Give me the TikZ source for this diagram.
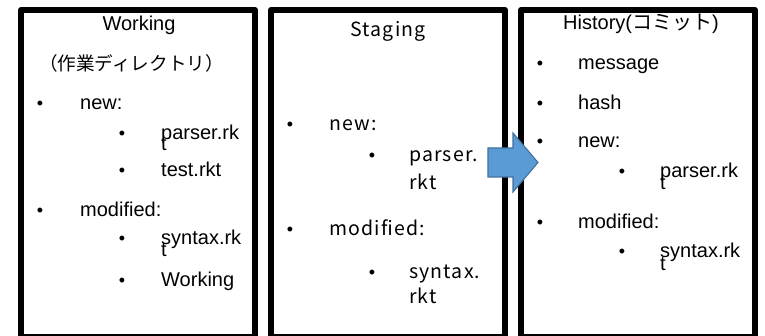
\documentclass[tikz,border=0pt]{standalone}
\usepackage{fontspec}
\setmainfont{Liberation Sans}
\newfontfamily\cjk{Noto Sans CJK JP}
\newfontfamily\stagefont[LetterSpace=6]{Noto Sans CJK JP}
\definecolor{arrowblue}{HTML}{5B9BD5}
\definecolor{arrowedge}{HTML}{41719C}
\begin{document}
\begin{tikzpicture}[x=1pt,y=-1pt,
  panel/.style={draw, line width=6pt, line join=round, fill=white,
    minimum width=234pt, minimum height=327pt, inner sep=0pt},
  txt/.style={anchor=base west, inner sep=0pt, font=\fontsize{20}{20}\selectfont},
  ttl/.style={anchor=base, inner sep=0pt, font=\fontsize{20}{20}\selectfont},
  dot/.style={anchor=base, inner sep=0pt, font=\fontsize{18}{18}\selectfont},
  stg/.style={anchor=base west, inner sep=0pt, font=\stagefont\fontsize{19.5}{20}\selectfont},
  stgttl/.style={anchor=base, inner sep=0pt, font=\stagefont\fontsize{19.5}{20}\selectfont},
  pushfill/.style={fill=arrowblue, draw=arrowedge, line width=1.1pt, line join=miter}]
\useasboundingbox (0,0) rectangle (765,336);
\fill[white] (0,0) rectangle (765,336);

% three panels, cut off at the lower edge
\node[panel] (work) at (138,173.5) {};
\node[panel] (stage) at (388,173.5) {};
\node[panel] (hist) at (638,173.5) {};

% --- working directory ---
\node[ttl] (wt) at (139,31) {Working};
\node[ttl, font=\cjk\fontsize{18.6}{18}\selectfont] (wj) at (131.5,71) {（作業ディレクトリ）};
\node[dot] (wb1) at (40,110) {•};
\node[txt] (wnew) at (80,110) {new:};
\node[dot] (wb2) at (122,140) {•};
\node[txt] (wp1) at (161,140) {parser.rk};
\node[txt] (wp2) at (161,151) {t};
\node[dot] (wb3) at (122,177) {•};
\node[txt] (wtest) at (161,177) {test.rkt};
\node[dot] (wb4) at (40,217) {•};
\node[txt] (wmod) at (80,217) {modified:};
\node[dot] (wb5) at (122,245) {•};
\node[txt] (ws1) at (161,245) {syntax.rk};
\node[txt] (ws2) at (161,257) {t};
\node[dot] (wb6) at (122,287) {•};
\node[txt] (wwork) at (161,287) {Working};

% --- staging area ---
\node[stgttl] (st) at (388,37) {Staging};
\node[dot] (sb1) at (290,131) {•};
\node[stg] (snew) at (329,131) {new:};
\node[dot] (sb2) at (372,162) {•};
\node[stg] (sp1) at (409,162) {parser.};
\node[stg] (sp2) at (409,190) {rkt};
\node[dot] (sb3) at (290,236) {•};
\node[stg] (smod) at (329,236) {modified:};
\node[dot] (sb4) at (372,279) {•};
\node[stg] (ss1) at (409,279) {syntax.};
\node[stg] (ss2) at (409,304) {rkt};

% --- history ---
\node[txt] (ht) at (563,30) {History({\cjk\fontsize{20}{20}\selectfont コミット})};
\node[dot] (hb1) at (540,70) {•};
\node[txt] (hmsg) at (578,70) {message};
\node[dot] (hb2) at (540,110) {•};
\node[txt] (hhash) at (578,110) {hash};
\node[dot] (hb3) at (540,148) {•};
\node[txt] (hnew) at (578,148) {new:};
\node[dot] (hb4) at (622,178) {•};
\node[txt] (hp1) at (660,178) {parser.rk};
\node[txt] (hp2) at (660,190) {t};
\node[dot] (hb5) at (540,229) {•};
\node[txt] (hmod) at (578,229) {modified:};
\node[dot] (hb6) at (622,258) {•};
\node[txt] (hs1) at (660,258) {syntax.rk};
\node[txt] (hs2) at (660,271) {t};

% block arrow from staging to history
\draw[pushfill] (488,148) -- (513,148) -- (513,133) -- (538,162.5)
  -- (513,192) -- (513,177) -- (488,177) -- cycle;
\end{tikzpicture}
\end{document}
